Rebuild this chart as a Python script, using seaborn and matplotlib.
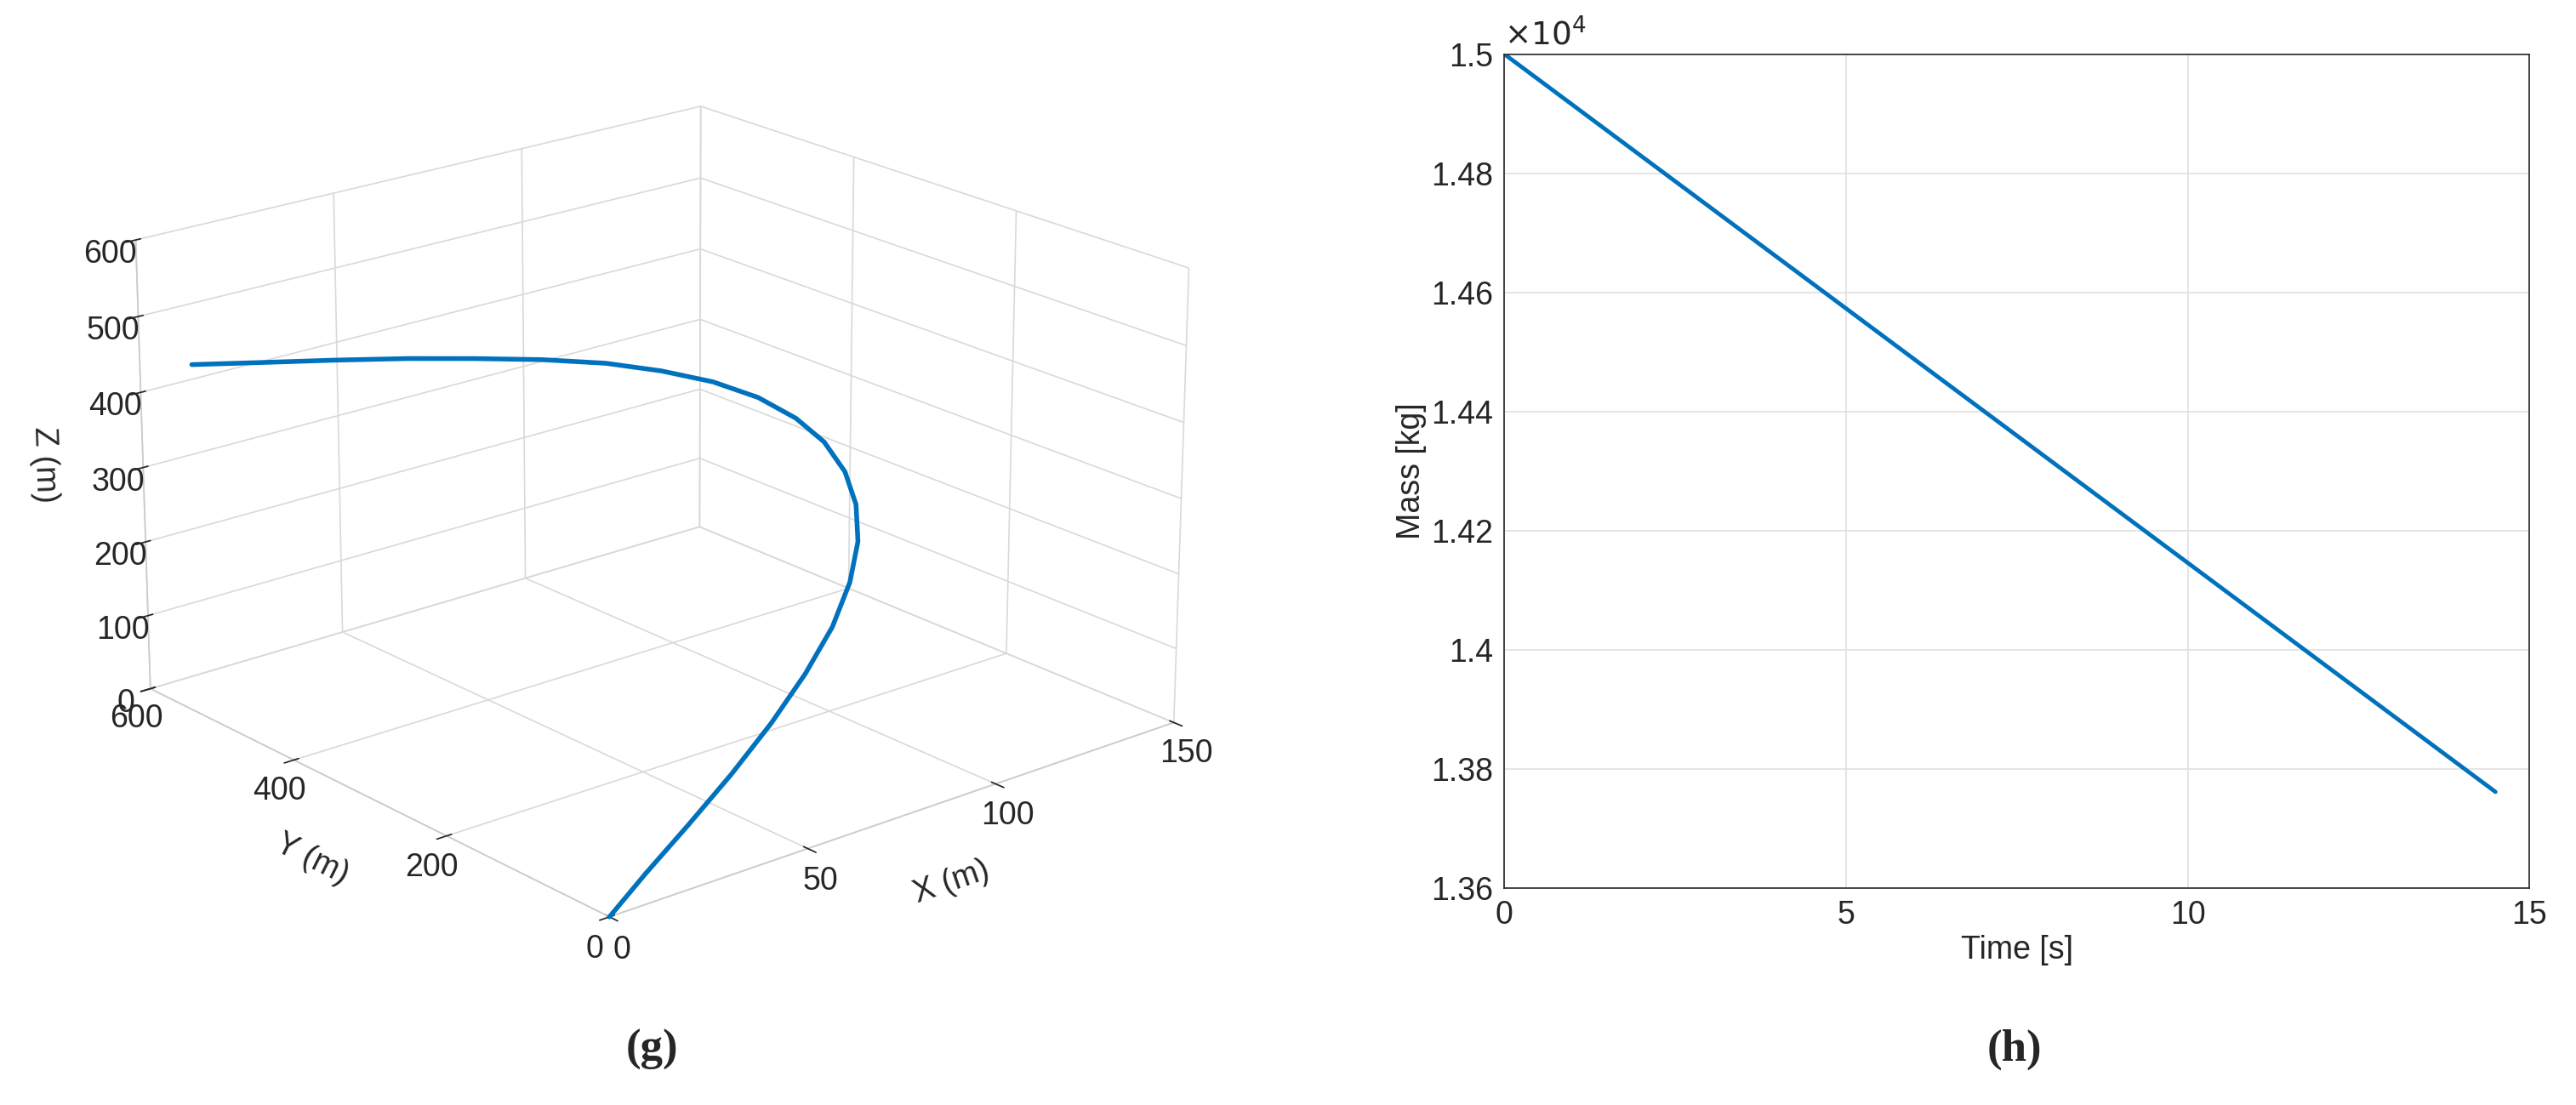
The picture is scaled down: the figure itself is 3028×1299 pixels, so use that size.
import numpy as np
import pandas as pd
import matplotlib
matplotlib.use("Agg")
import matplotlib.pyplot as plt
import seaborn as sns

sns.set_theme(style="whitegrid")
plt.rcParams['font.family'] = ['Liberation Sans', 'DejaVu Sans']

# 3D trajectory (read approx.)
traj_x = [0, 10, 22, 35, 48, 60, 71, 80, 87, 92, 95, 96, 95, 92, 87, 80, 72, 62, 51, 40, 28, 16, 5]
traj_y = [0, 5, 12, 22, 35, 50, 68, 88, 110, 135, 162, 192, 222, 255, 288, 320, 352, 385, 418, 450, 485, 520, 555]
traj_z = [0, 35, 72, 110, 148, 185, 220, 255, 288, 318, 345, 370, 390, 408, 422, 433, 441, 446, 449, 451, 451, 450, 448]

# Mass vs time
time_s = [0, 14.5]
mass_kg = [15000, 13762]

blue = "#0072BD"
fs = 27
fig = plt.figure(figsize=(30.28, 12.99), dpi=100)

ax3 = fig.add_axes([-0.03, 0.07, 0.56, 0.96], projection='3d')
ax3.plot(traj_x, traj_y, traj_z, color=blue, lw=4)
ax3.set_xlim(0, 150); ax3.set_ylim(0, 600); ax3.set_zlim(0, 600)
ax3.set_xticks([0, 50, 100, 150]); ax3.set_yticks([0, 200, 400, 600])
ax3.set_zticks([0, 100, 200, 300, 400, 500, 600])
ax3.view_init(elev=20, azim=-130)
ax3.set_xlabel("X (m)", fontsize=fs, labelpad=24)
ax3.set_ylabel("Y (m)", fontsize=fs, labelpad=24)
ax3.set_zlabel("Z (m)", fontsize=fs, labelpad=24)
ax3.tick_params(labelsize=fs)
for a in (ax3.xaxis, ax3.yaxis, ax3.zaxis):
    a.set_pane_color((1, 1, 1, 0))
    a._axinfo["grid"]["color"] = (0.85, 0.85, 0.85, 1)
    a._axinfo["grid"]["linewidth"] = 1.2
ax3.set_box_aspect((1.15, 1.15, 0.75), zoom=1.05)

ax = fig.add_axes([0.584, 0.196, 0.398, 0.755])
df = pd.DataFrame({"t": time_s, "m": mass_kg})
sns.lineplot(data=df, x="t", y="m", ax=ax, color=blue, lw=3.5)
ax.set_xlim(0, 15); ax.set_ylim(13600, 15000)
ax.set_xticks([0, 5, 10, 15])
ax.set_yticks(np.arange(13600, 15001, 200))
ax.set_yticklabels(["1.36", "1.38", "1.4", "1.42", "1.44", "1.46", "1.48", "1.5"])
ax.text(0, 1.003, r"$\times10^4$", transform=ax.transAxes, fontsize=fs, va="bottom")
ax.set_xlabel("Time [s]", fontsize=fs)
ax.set_ylabel("Mass [kg]", fontsize=fs)
ax.tick_params(labelsize=fs)
ax.grid(color="#e0e0e0", lw=1.2)
for s in ax.spines.values():
    s.set_color("#262626"); s.set_linewidth(1.2)

fig.text(0.253, 0.04, "(g)", fontsize=38, fontweight="bold", family="Liberation Serif", ha="center")
fig.text(0.782, 0.04, "(h)", fontsize=38, fontweight="bold", family="Liberation Serif", ha="center")
fig.savefig("out.png", dpi=100, facecolor="white")
